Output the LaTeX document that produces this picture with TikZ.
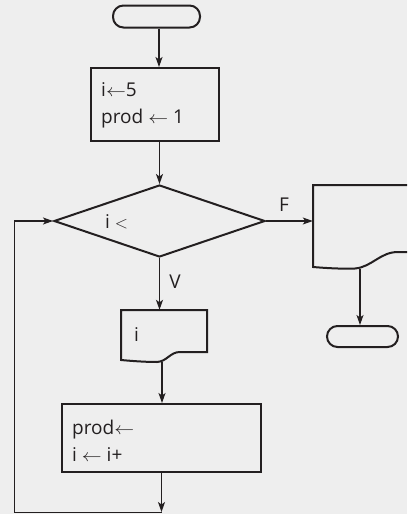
\documentclass[tikz,border=0pt]{standalone}
\usepackage{fontspec}
\setmainfont{Open Sans}
\usetikzlibrary{arrows.meta,shapes.geometric}
\definecolor{bg}{HTML}{EEEEEE}
\definecolor{ink}{HTML}{231F20}
\newcommand\larr{\scalebox{1.15}[1]{$\leftarrow$}}
\begin{document}
\begin{tikzpicture}[x=1pt,y=-1pt,
  shp/.style={draw=ink, line width=2pt, inner sep=0pt},
  term/.style={shp, rounded corners=10.5pt},
  conn/.style={draw=ink, line width=1.1pt, -{Stealth[length=10pt,width=7pt,inset=2.5pt]}},
  loopline/.style={draw=ink, line width=1pt},
  lbl/.style={font=\fontsize{19}{22}\selectfont, text=ink, inner sep=0pt}]
\fill[bg] (0,0) rectangle (407,514);
\clip (0,0) rectangle (407,514);
\useasboundingbox (0,0) rectangle (407,514);

% start terminal
\node[term, minimum width=87pt, minimum height=22pt] (start) at (156.5,16.5) {};
% init box
\node[shp, minimum width=128pt, minimum height=73pt] (init) at (155,104.5) {};
\node[lbl, anchor=base west] (t1) at (101,96.7) {i\larr5};
\node[lbl, anchor=base west] (t2) at (101,123.3) {prod \larr\ 1};
% decision
\node[shp, diamond, minimum width=211pt, minimum height=72pt] (cond) at (159.5,221) {};
\node[lbl, anchor=base west] (ct) at (105,228.3) {i $<$};
% result output (right, clipped)
\node[minimum width=106pt, minimum height=82pt, inner sep=0pt] (res) at (366,226) {};
\draw[ink, line width=2pt] (420,185) -- (313,185) -- (313,267)
  .. controls (325,268) and (340,269) .. (355,268.5)
  .. controls (372,267) and (380,252) .. (398,252) -- (420,252);
\coordinate (reslow) at (360,268.5);
% stop terminal
\node[term, minimum width=71pt, minimum height=21pt] (stop) at (362.5,336.5) {};
% output i
\node[minimum width=86pt, minimum height=51pt, inner sep=0pt] (outi) at (164,335.5) {};
\draw[ink, line width=2pt] (121,310) -- (207,310) -- (207,352) -- (180,352)
  .. controls (170,352) and (167,361.5) .. (157,362)
  .. controls (145,362) and (132,361) .. (121,360) -- cycle;
\coordinate (ilow) at (162,361.5);
\node[lbl, anchor=base west] (ti) at (134,341.7) {i};
% update box
\node[shp, minimum width=199pt, minimum height=68pt] (upd) at (161.5,438) {};
\node[lbl, anchor=base west] (u1) at (72,434) {prod\larr};
\node[lbl, anchor=base west] (u2) at (72,461.7) {i \larr\ i+};
% labels
\node[lbl] (F) at (284,205) {F};
\node[lbl] (V) at (175,281.5) {V};
% loop coordinates
\coordinate (lb) at (161.5,512);
\coordinate (lc) at (14,512);
\coordinate (ld) at (14,221);

% connectors
\draw[conn] (start.south -| 159,0) -- (init.north -| 159,0);
\draw[conn] (init.south -| cond.north) -- (cond.north);
\draw[conn] (cond.east) -- (cond.east -| res.west);
\draw[conn] (reslow) -- (reslow |- stop.north);
\draw[conn] (cond.south) -- (cond.south |- outi.north);
\draw[conn] (ilow) -- (ilow |- upd.north);
\draw[conn] (upd.south) -- (lb);
\draw[loopline] (lb) -- (lc) -- (ld);
\draw[conn] (ld) -- (cond.west);
\end{tikzpicture}
\end{document}
